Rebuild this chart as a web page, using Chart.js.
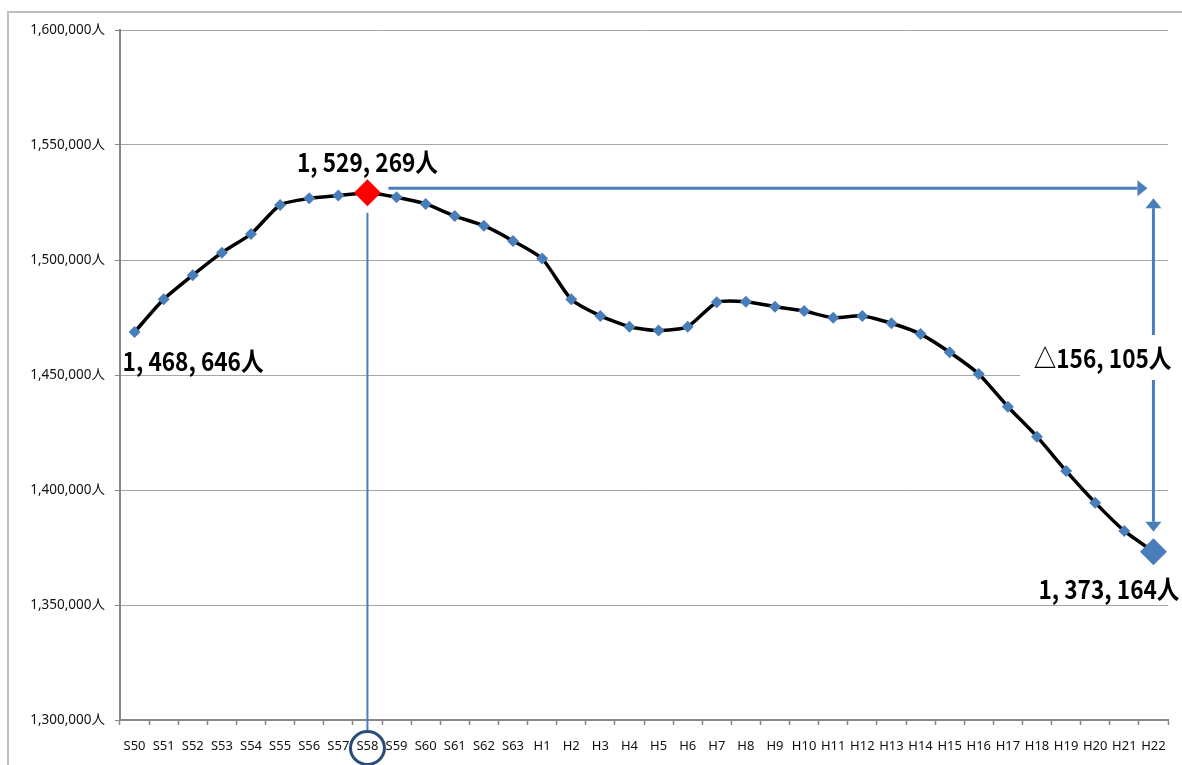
<!DOCTYPE html>
<html>
<head>
<meta charset="utf-8">
<script src="https://cdn.jsdelivr.net/npm/chart.js@4.4.0/dist/chart.umd.min.js"></script>
<style>
  body { margin: 0; background: #fff; }
  #wrap { position: relative; width: 1182px; height: 765px; }
</style>
</head>
<body>
<div id="wrap"><canvas id="my-chart" width="1182" height="765"></canvas></div>
<script>
'use strict';

// categories (年度)
let years = ['S50', 'S51', 'S52', 'S53', 'S54', 'S55', 'S56', 'S57', 'S58', 'S59',
  'S60', 'S61', 'S62', 'S63', 'H1', 'H2', 'H3', 'H4', 'H5', 'H6', 'H7', 'H8', 'H9',
  'H10', 'H11', 'H12', 'H13', 'H14', 'H15', 'H16', 'H17', 'H18', 'H19', 'H20', 'H21', 'H22'];

// population (人)
let population = [1468646, 1482900, 1493400, 1503200, 1511300, 1523900, 1526800, 1528000,
  1529269, 1527300, 1524400, 1519100, 1514900, 1508300, 1500600, 1482900, 1475700,
  1471000, 1469300, 1471000, 1481600, 1481900, 1479700, 1477800, 1474900, 1475700,
  1472500, 1467800, 1459900, 1450400, 1436200, 1423200, 1408300, 1394500, 1382200, 1373164];

// y axis tick values
let yTicks = [1300000, 1350000, 1400000, 1450000, 1500000, 1550000, 1600000];

// highlighted points
let peakIndex = 8;
let lastIndex = 35;

let ctx = document.getElementById('my-chart');

const BLUE = '#4a7ebb';

function fmtBig(n) {
  return n.toLocaleString('en-US').replace(/,/g, ', ');
}

function drawLabel(c, text, x, y, align) {
  c.save();
  c.font = 'bold 26px "Noto Sans CJK JP", sans-serif';
  c.fillStyle = '#000';
  c.textBaseline = 'middle';
  c.textAlign = align;
  c.translate(x, y);
  c.scale(0.87, 1);
  c.fillText(text, 0, 0);
  c.restore();
}

function arrow(c, x1, y1, x2, y2) {
  let ang = Math.atan2(y2 - y1, x2 - x1);
  let len = 10;
  let half = 8;
  c.beginPath();
  c.moveTo(x1, y1);
  c.lineTo(x2 - Math.cos(ang) * len, y2 - Math.sin(ang) * len);
  c.stroke();
  c.beginPath();
  c.moveTo(x2, y2);
  c.lineTo(x2 - Math.cos(ang) * len - Math.sin(ang) * half, y2 - Math.sin(ang) * len + Math.cos(ang) * half);
  c.lineTo(x2 - Math.cos(ang) * len + Math.sin(ang) * half, y2 - Math.sin(ang) * len - Math.cos(ang) * half);
  c.closePath();
  c.fill();
}

// frame + annotations
const annotations = {
  id: 'annotations',
  beforeDraw(chart) {
    let c = chart.ctx;
    c.save();
    c.strokeStyle = '#bfbfbf';
    c.lineWidth = 2;
    c.beginPath();
    c.moveTo(8, 765);
    c.lineTo(8, 12);
    c.lineTo(1182, 12);
    c.stroke();
    c.restore();
  },
  afterDatasetsDraw(chart) {
    let c = chart.ctx;
    let x = chart.scales.x;
    let y = chart.scales.y;
    let xPeak = x.getPixelForValue(peakIndex);
    let yPeak = y.getPixelForValue(population[peakIndex]);
    let xLast = x.getPixelForValue(lastIndex);
    let yLast = y.getPixelForValue(population[lastIndex]);
    let xFirst = x.getPixelForValue(0);
    let yFirst = y.getPixelForValue(population[0]);

    c.save();
    c.strokeStyle = BLUE;
    c.fillStyle = BLUE;

    // drop line from the peak to the axis label
    c.lineWidth = 2;
    c.beginPath();
    c.moveTo(xPeak, yPeak + 20);
    c.lineTo(xPeak, 731);
    c.stroke();

    // arrows
    c.lineWidth = 3;
    arrow(c, xPeak + 21, yPeak - 4.5, xLast - 6, yPeak - 4.5);
    arrow(c, xLast, 335, xLast, yPeak + 5.5);
    arrow(c, xLast, 380, xLast, yLast - 20);

    // white box behind the difference label
    c.fillStyle = '#fff';
    c.fillRect(1020, 336, 156, 44);

    // circle round S58
    c.strokeStyle = '#2b4b7a';
    c.lineWidth = 3;
    c.beginPath();
    c.ellipse(xPeak, 748, 17, 16.5, 0, 0, Math.PI * 2);
    c.stroke();
    c.restore();

    drawLabel(c, fmtBig(population[peakIndex]) + '人', xPeak, yPeak - 31, 'center');
    drawLabel(c, fmtBig(population[0]) + '人', xFirst - 12, yFirst + 29, 'left');
    drawLabel(c, '△' + fmtBig(population[peakIndex] - population[lastIndex]) + '人', xLast + 18, 358, 'right');
    drawLabel(c, fmtBig(population[lastIndex]) + '人', xLast + 26, yLast + 37, 'right');
  }
};

let chartObject = {
  type: 'line',
  data: {
    labels: years,
    datasets: [{
      data: population,
      borderColor: '#000',
      borderWidth: 3.5,
      tension: 0.2,
      clip: false,
      pointStyle: 'rectRot',
      pointRadius: (c) => (c.dataIndex === peakIndex || c.dataIndex === lastIndex) ? 13.5 : 6,
      pointBackgroundColor: (c) => c.dataIndex === peakIndex ? '#ff0000' : BLUE,
      pointBorderColor: (c) => c.dataIndex === peakIndex ? '#ff0000' : BLUE,
      pointBorderWidth: 0
    }]
  },
  options: {
    responsive: false,
    animation: false,
    layout: { padding: { top: 30, right: 14, left: 0, bottom: 0 } },
    plugins: {
      legend: { display: false },
      tooltip: { enabled: false }
    },
    scales: {
      x: {
        offset: true,
        afterFit: (s) => { s.height = 45; },
        grid: {
          offset: true,
          drawOnChartArea: false,
          drawTicks: true,
          tickLength: 5,
          tickColor: '#868686',
          tickWidth: 1.5
        },
        border: { color: '#868686', width: 2 },
        ticks: {
          color: '#111',
          padding: 13,
          maxRotation: 0,
          autoSkip: false,
          font: { family: '"Noto Sans", sans-serif', size: 13 }
        }
      },
      y: {
        min: 1300000,
        max: 1600000,
        afterFit: (s) => { s.width = 120; },
        afterBuildTicks: (s) => { s.ticks = yTicks.map((v) => ({ value: v })); },
        grid: {
          color: '#a6a6a6',
          lineWidth: 1,
          tickLength: 5,
          tickColor: '#868686'
        },
        border: { color: '#868686', width: 2 },
        ticks: {
          color: '#111',
          padding: 10,
          font: { family: '"Noto Sans", "Noto Sans CJK JP", sans-serif', size: 13.5 },
          callback: (v) => v.toLocaleString('en-US') + '人'
        }
      }
    }
  },
  plugins: [annotations]
};

const myChart = new Chart(ctx, chartObject);
</script>
</body>
</html>
